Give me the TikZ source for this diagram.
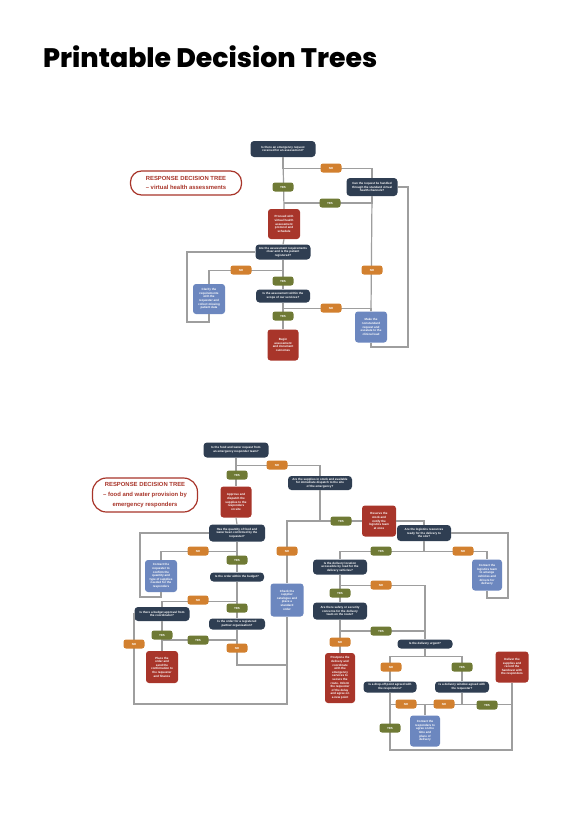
\documentclass[tikz,border=0pt]{standalone}
\usepackage{fontspec}
\usepackage{graphicx}
\setmainfont{Liberation Sans}
\newfontfamily\titlefont{Poppins}[UprightFont={* ExtraBold}]
\usetikzlibrary{calc}
\definecolor{navy}{HTML}{2F3E52}
\definecolor{rdc}{HTML}{A8352A}
\definecolor{orgc}{HTML}{D2802F}
\definecolor{grnc}{HTML}{6F7A35}
\definecolor{blc}{HTML}{6C87BF}
\definecolor{lgray}{HTML}{9E9E9E}
\newcommand{\ntxt}{\fontsize{3.0}{3.6}\selectfont\bfseries}
\newcommand{\ltxt}{\fontsize{2.9}{3.2}\selectfont\bfseries}
\begin{document}
\begin{tikzpicture}[x=1pt,y=-1pt,
  ln/.style={draw=lgray, line width=1.2pt},
  qbox/.style={fill=navy, rounded corners=3.5pt, text=white, align=center, inner sep=0.5pt, font=\ntxt},
  rbox/.style={fill=rdc, rounded corners=3pt, text=white, align=center, inner sep=0.5pt, font=\ntxt},
  bbox/.style={fill=blc, rounded corners=3pt, text=white, align=center, inner sep=0.5pt, font=\ntxt},
  yes/.style={fill=grnc, rounded corners=2.5pt, minimum width=21pt, minimum height=9pt, inner sep=0pt, text=white, font=\ltxt},
  no/.style={fill=orgc, rounded corners=2.5pt, minimum width=21pt, minimum height=9pt, inner sep=0pt, text=white, font=\ltxt},
  pill/.style={draw=rdc, line width=1.2pt, fill=white, text=rdc, align=center, inner sep=0pt, font=\fontsize{5.9}{9.8}\selectfont\bfseries},
  sz/.style 2 args={minimum width=#1pt, minimum height=#2pt}
]
\useasboundingbox[fill=white] (0,0) rectangle (587,822);

% title
\node[anchor=base west, inner sep=0] (T) at (43,67) {\resizebox{334pt}{!}{\titlefont Printable Decision Trees}};

% ---------- top tree ----------
\node[pill, sz={111}{24}, rounded corners=11pt] (H1) at (186,183) {RESPONSE DECISION TREE\\– virtual health assessments};
\node[qbox, sz={65}{16}] (A) at (283,149) {Is there an emergency request\\received for an assessment?};
\node[qbox, sz={51}{18}] (B) at (372,187) {Can the request be handled\\through the standard virtual\\health channels?};
\node[rbox, sz={32}{30}] (R1) at (284,224) {Proceed with\\virtual health\\assessment\\protocol and\\schedule};
\node[qbox, sz={55}{15}] (C) at (283,252) {Are the assessment requirements\\clear and is the patient\\registered?};
\node[bbox, sz={32}{30}] (L1) at (209,299) {Clarify the\\requirements\\with the\\requester and\\collect missing\\patient data};
\node[qbox, sz={54}{13}] (D) at (283,296) {Is the assessment within the\\scope of our services?};
\node[rbox, sz={31}{31}] (R2) at (283,345) {Begin\\assessment\\and document\\outcomes};
\node[bbox, sz={32}{31}] (L2) at (371,327) {Make the\\nonstandard\\request and\\escalate to the\\clinical lead};

\coordinate (j1) at (284,203);
\coordinate (c1) at (408,347);
\coordinate (c2) at (187,322);

\draw[ln] (A.south) -- (R1.north);
\draw[ln] (A.south) -- ++(0,11) -| (B.north);
\draw[ln] (B.south) |- (j1);
\draw[ln] (B.south) -- (L2.north);
\draw[ln] (L2.south) |- (c1) |- (B.east);
\draw[ln] (R1.south) -- (C.north);
\draw[ln] (C.south) -- ++(0,10.5) -| (L1.north);
\draw[ln] (L1.south) |- (c2) |- (C.west);
\draw[ln] (C.south) -- (D.north);
\draw[ln] (D.south) -- ++(0,5.5) -| (L2.north);
\draw[ln] (D.south) -- (R2.north);

\node[no]  (t1) at (331,168) {NO};
\node[yes] (t2) at (283,187) {YES};
\node[yes] (t3) at (330,203) {YES};
\node[no]  (t4) at (372,270) {NO};
\node[no]  (t5) at (241,270) {NO};
\node[yes] (t6) at (283,281) {YES};
\node[no]  (t7) at (331,308) {NO};
\node[yes] (t8) at (283,316) {YES};

% ---------- bottom tree ----------
\node[pill, sz={105}{34}, rounded corners=14pt] (H2) at (145,495) {RESPONSE DECISION TREE\\– food and water provision by\\emergency responders};
\node[qbox, sz={65}{15}] (E) at (236,450) {Is the food and water request from\\an emergency responder team?};
\node[qbox, sz={64}{14}] (F) at (320,483) {Are the supplies in stock and available\\for immediate dispatch to the site\\of the emergency?};
\node[rbox, sz={31}{31}] (R3) at (236,502) {Approve and\\dispatch the\\supplies to the\\responders\\on site};
\node[qbox, sz={56}{17}] (G) at (237,533) {Has the quantity of food and\\water been confirmed by the\\requester?};
\node[bbox, sz={32}{32}] (B3) at (161,576) {Contact the\\requester to\\confirm the\\quantity and\\type of supplies\\needed for the\\responders};
\node[bbox, sz={33}{33}] (B4) at (287,600) {Check the\\supplier\\catalogue and\\place a\\standard\\order};
\node[rbox, sz={34}{31}] (R4) at (379,521) {Reserve the\\stock and\\notify the\\logistics team\\at once};
\node[qbox, sz={54}{16}] (H) at (424,533) {Are the logistics resources\\ready for the delivery to\\the site?};
\node[bbox, sz={30}{31}] (B5) at (487,575) {Contact the\\logistics team\\to arrange\\vehicles and\\drivers for\\delivery};
\node[qbox, sz={54}{15}] (I) at (340,567) {Is the delivery location\\accessible by road for the\\delivery vehicles?};
\node[qbox, sz={54}{17}] (J) at (340,611) {Are there safety or security\\concerns for the delivery\\team on the route?};
\node[rbox, sz={30}{50}] (R5) at (340,678) {Postpone the\\delivery and\\coordinate\\with the\\emergency\\services to\\secure the\\route. Inform\\the requester\\of the delay\\and agree on\\a new point};
\node[qbox, sz={55}{9}] (K) at (425,644) {Is the delivery urgent?};
\node[qbox, sz={53}{11}] (L) at (390,687) {Is a drop-off point agreed with\\the responders?};
\node[qbox, sz={54}{11}] (M) at (462,687) {Is a delivery window agreed with\\the requester?};
\node[bbox, sz={30}{31}] (B6) at (425,731) {Contact the\\responders to\\agree on the\\time and\\place of\\delivery};
\node[rbox, sz={33}{31}] (R6) at (512,667) {Deliver the\\supplies and\\record the\\handover with\\the responders};
\node[qbox, sz={54}{9}] (N) at (237,577) {Is the order within the budget?};
\node[qbox, sz={55}{14}] (O) at (162,614) {Is there a budget approval from\\the coordinator?};
\node[qbox, sz={56}{11}] (P) at (237,624) {Is the order for a registered\\partner organisation?};
\node[rbox, sz={32}{32}] (R7) at (162,667) {Place the\\order and\\send the\\confirmation to\\the requester\\and finance};

\coordinate (f1) at (320,521);
\coordinate (c3) at (140,597);
\coordinate (c4) at (134,704);
\coordinate (j2) at (162,640);
\coordinate (j3) at (287,665);
\coordinate (c5) at (508,598);
\coordinate (j4) at (425,631);
\coordinate (c6) at (512,750);

\draw[ln] (E.south) -- (R3.north);
\draw[ln] (E.south) -- ++(0,7.5) -| (F.north);
\draw[ln] (R3.south) -- (G.north);
\draw[ln] (G.south) -- ++(0,9.5) -| (B3.north);
\draw[ln] (B3.south) |- (c3) |- (G.west);
\draw[ln] (G.south) -- (N.north);
\draw[ln] (N.south) -- ++(0,19.5) -| (O.north);
\draw[ln] (N.south) -- (P.north);
\draw[ln] (O.south) -- (R7.north);
\draw[ln] (O.west) -| (c4) -| (B4.south);
\draw[ln] (P.south) |- (j2);
\draw[ln] (P.south) |- (j3);
\draw[ln] (F.south) -- (f1) -| (B4.north);
\draw[ln] (f1) -- (R4.west);
\draw[ln] (R4.east) -| (H.north);
\draw[ln] (H.south) -- ++(0,10) -| (B5.north);
\draw[ln] (H.south) -- ++(0,10) -| (I.north);
\draw[ln] (B5.south) |- (c5) |- (H.east);
\draw[ln] (I.south) -- ++(0,10.5) -| (K.north);
\draw[ln] (I.south) -- (J.north);
\draw[ln] (J.south) |- (j4);
\draw[ln] (J.south) -- (R5.north);
\draw[ln] (K.south) -- ++(0,7.5) -| (L.north);
\draw[ln] (K.south) -- ++(0,7.5) -| (M.north);
\draw[ln] (L.south) -- ++(0,11.5) -| (B6.north);
\draw[ln] (M.south) -- ++(0,11.5) -| (B6.north);
\draw[ln] (M.south) -- ++(0,11.5) -| (R6.south);
\draw[ln] (L.south) |- (c6) -- (R6.south);

\node[no]  (u1) at (277,465) {NO};
\node[yes] (u2) at (237,475) {YES};
\node[no]  (u3) at (198,551) {NO};
\node[yes] (u4) at (237,560) {YES};
\node[no]  (u5) at (198,600) {NO};
\node[yes] (u6) at (237,608) {YES};
\node[yes] (u7) at (162,635) {YES};
\node[no]  (u8) at (134,644) {NO};
\node[yes] (u9) at (198,640) {YES};
\node[no]  (u10) at (237,648) {NO};
\node[no]  (u11) at (287,551) {NO};
\node[yes] (u12) at (341,521) {YES};
\node[no]  (u13) at (463,551) {NO};
\node[yes] (u14) at (381,551) {YES};
\node[no]  (u15) at (381,585) {NO};
\node[yes] (u16) at (340,593) {YES};
\node[yes] (u17) at (381,631) {YES};
\node[no]  (u18) at (340,642) {NO};
\node[no]  (u19) at (391,667) {NO};
\node[yes] (u20) at (462,667) {YES};
\node[no]  (u21) at (406,704) {NO};
\node[no]  (u22) at (444,704) {NO};
\node[yes] (u23) at (487,705) {YES};
\node[yes] (u24) at (390,728) {YES};
\end{tikzpicture}
\end{document}
